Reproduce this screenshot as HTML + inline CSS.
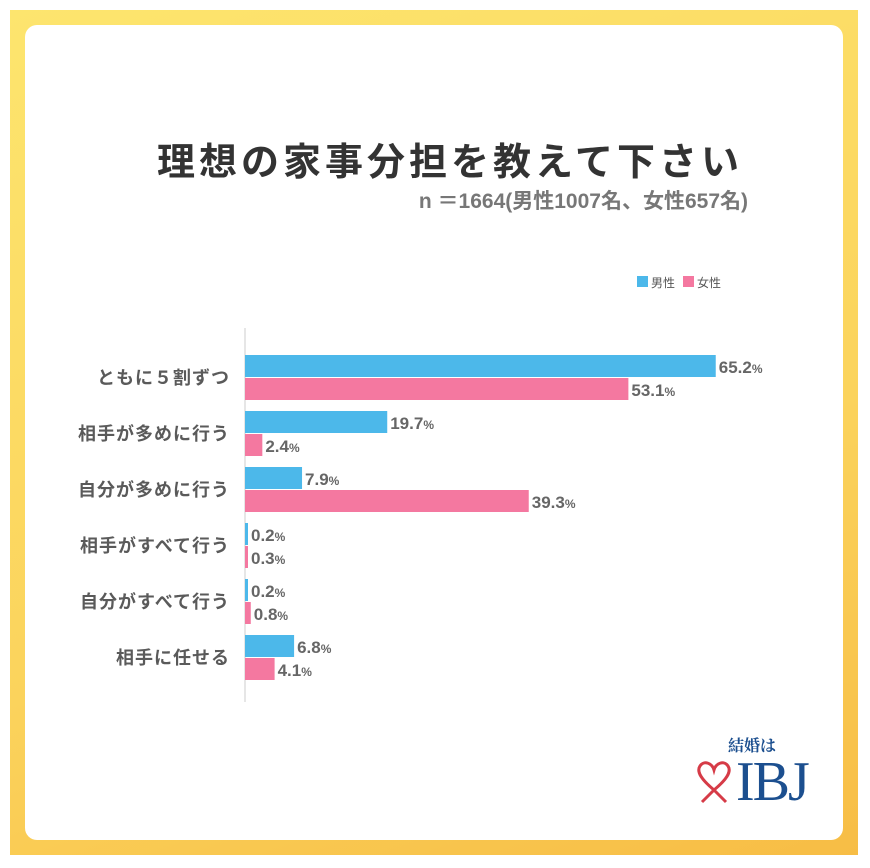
<!DOCTYPE html>
<html><head><meta charset="utf-8"><style>
body{margin:0;width:870px;height:868px;background:#fff;font-family:"Liberation Sans","Noto Sans CJK JP",sans-serif;position:relative;overflow:hidden}
#frame{position:absolute;left:10px;top:10px;width:848px;height:845px;background:linear-gradient(160deg,#fde56e,#fbd35c 60%,#f7bd45)}
#inner{position:absolute;left:25px;top:25px;width:818px;height:815px;background:#fff;border-radius:12px}
.t{position:absolute;white-space:nowrap}
</style></head><body>
<div id="frame"></div>
<div id="inner"></div>
<div class="t" style="left:0;width:900px;text-align:center;top:131px;font-size:38px;font-weight:bold;color:#333;letter-spacing:4px">理想の家事分担を教えて下さい</div>
<div class="t" style="right:122px;top:185px;font-size:21px;font-weight:bold;color:#777">n ＝1664(男性1007名、女性657名)</div>
<svg id="chart" width="870" height="868" style="position:absolute;left:0;top:0"></svg>
<div class="t" style="left:728px;top:733px;font-size:16px;font-weight:bold;color:#1c4f8f;font-family:'Liberation Serif','Noto Serif CJK SC',serif">結婚は</div>
<svg width="40" height="46" style="position:absolute;left:694px;top:760px"><path d="M20 30 C8 20 2 12 6 6 C10 0 18 3 20 10 C22 3 30 0 34 6 C38 12 32 20 20 30 Z M20 30 L8 42 M20 30 L32 42" fill="none" stroke="#d63b47" stroke-width="3"/></svg>
<div class="t" style="left:736px;top:750px;font-size:56px;color:#1c4f8f;font-family:'Liberation Serif',serif;letter-spacing:-2px">IBJ</div>
<script>
const categories=["ともに５割ずつ","相手が多めに行う","自分が多めに行う","相手がすべて行う","自分がすべて行う","相手に任せる"];
const male=[65.2,19.7,7.9,0.2,0.2,6.8];
const female=[53.1,2.4,39.3,0.3,0.8,4.1];
const seriesNames=["男性","女性"];
const colors=["#4cb8ea","#f478a0"];
const svg=document.getElementById('chart');const NS='http://www.w3.org/2000/svg';
const x0=245,scale=7.22,top0=355,step=56,bh=22;
const xs=v=>v*scale;
function el(t,a,txt){const e=document.createElementNS(NS,t);for(const k in a)e.setAttribute(k,a[k]);if(txt!=null)e.textContent=txt;svg.appendChild(e);return e;}
const ax=el('line',{x1:x0,y1:328,x2:x0,y2:702,stroke:'#ccc','stroke-width':1});


categories.forEach((c,i)=>{
 const y=top0+i*step;
 const lab=el('text',{x:230,y:y+bh+7,'text-anchor':'end','font-size':18,'font-weight':'bold',fill:'#5a5a5a','letter-spacing':1},c);
 
 
 [male[i],female[i]].forEach((v,s)=>{
  const by=y+s*(bh+1);
  const r=el('rect',{x:x0,y:by,width:Math.max(xs(v),3),height:bh,fill:colors[s]});
  
  
  const t=el('text',{x:x0+Math.max(xs(v),3)+3,y:by+18,'font-size':17,'font-weight':'bold',fill:'#666'});
  
  
  t.textContent=v.toFixed(1);
  const p=document.createElementNS(NS,'tspan');p.setAttribute('font-size',12);p.textContent='%';t.appendChild(p);
 });
});
seriesNames.forEach((n,s)=>{
 const lx=637+s*46;
 const r=el('rect',{x:lx,y:276,width:11,height:11,fill:colors[s]});
 
 
 const t=el('text',{x:lx+14,y:287,'font-size':12,fill:'#555'},n);
 
 
});
</script>
</body></html>
